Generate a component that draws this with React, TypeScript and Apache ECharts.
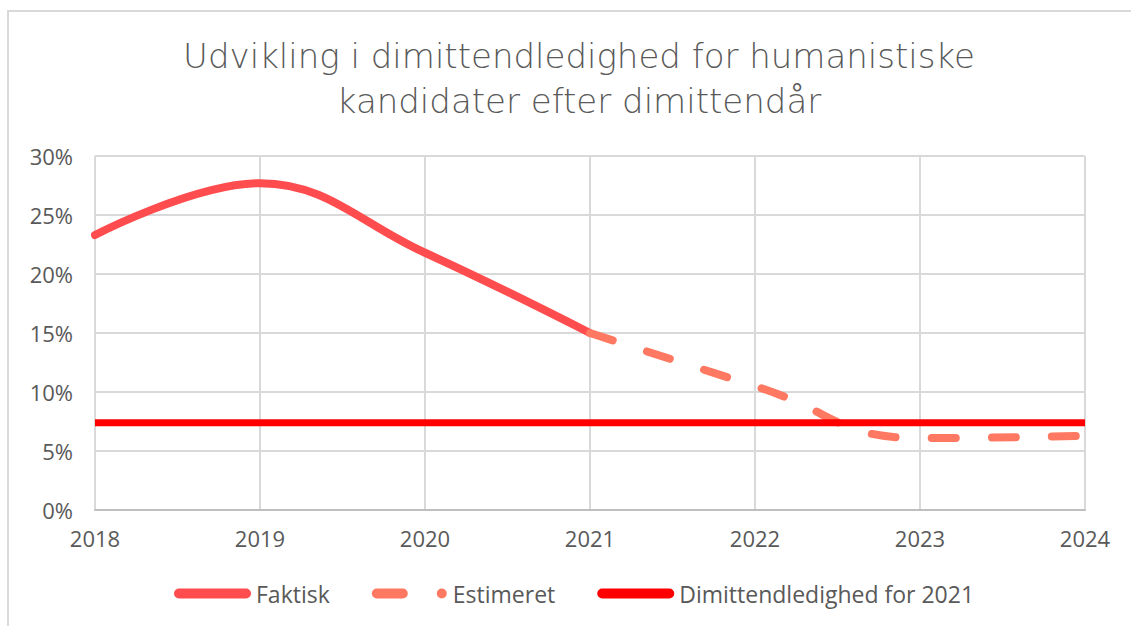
import React, { useEffect, useRef } from "react";
import * as echarts from "echarts";

const titleLines = ["Udvikling i dimittendledighed for humanistiske", "kandidater efter dimittendår"];
const seriesNames = ["Faktisk", "Estimeret", "Dimittendledighed for 2021"];
const faktiskYears = [2018, 2019, 2020, 2021];
const faktiskValues = [23.3, 27.7, 21.8, 15.0];
const estimeretYears = [2021, 2022, 2023, 2024];
const estimeretValues = [15.0, 10.5, 6.1, 6.3];
const refYears = [2018, 2024];
const refValues = [7.4, 7.4];

const FONT = "'Open Sans', Lato, sans-serif";
const TITLE_FONT = "'DejaVu Sans', 'Open Sans', sans-serif";
const TXT = "#595959";
const C1 = "#FF4D4F";
const C2 = "#FF7962";
const C3 = "#FF0000";

const pill = "path://M5,0 H72 A5,5 0 0 1 72,10 H5 A5,5 0 0 1 5,0 Z";
const dashPill =
  "path://M5,0 H31 A5,5 0 0 1 31,10 H5 A5,5 0 0 1 5,0 Z M70,0 A5,5 0 1 1 70,10 A5,5 0 1 1 70,0 Z";

export default function App() {
  const ref = useRef<HTMLDivElement>(null);
  useEffect(() => {
    if (!ref.current) return;
    const chart = echarts.init(ref.current, undefined, { renderer: "svg" });
    const zip = (xs: number[], ys: number[]) => xs.map((x, i) => [x, ys[i]]);
    const titleStyle = {
      fontFamily: TITLE_FONT,
      fontSize: 34,
      fontWeight: 200,
      color: TXT,
      lineHeight: 40,
    };
    chart.setOption({
      animation: false,
      backgroundColor: "#ffffff",
      textStyle: { fontFamily: FONT },
      graphic: [
        {
          type: "rect",
          shape: { x: 8, y: 11, width: 1200, height: 700 },
          style: { fill: "none", stroke: "#D9D9D9", lineWidth: 2 },
          silent: true,
        },
      ],
      title: [
        { text: titleLines[0], left: 574, textAlign: "center", top: 31, textStyle: titleStyle },
        { text: titleLines[1], left: 574, textAlign: "center", top: 76, textStyle: titleStyle },
      ],
      legend: {
        bottom: 16,
        left: 169,
        itemWidth: 77,
        itemHeight: 10,
        itemGap: 42,
        textStyle: { fontFamily: FONT, fontSize: 23, color: TXT },
        data: [
          { name: seriesNames[0], icon: pill, itemStyle: { color: C1 } },
          { name: seriesNames[1], icon: dashPill, itemStyle: { color: C2 } },
          { name: seriesNames[2], icon: pill, itemStyle: { color: C3 } },
        ],
      },
      grid: { left: 95, right: 46, top: 156, bottom: 116, containLabel: false },
      xAxis: {
        type: "value",
        min: 2018,
        max: 2024,
        interval: 1,
        axisLine: { show: true, lineStyle: { color: "#BFBFBF", width: 2 } },
        axisTick: { show: false },
        splitLine: { show: true, lineStyle: { color: "#D9D9D9", width: 2 } },
        axisLabel: {
          color: TXT,
          fontSize: 22,
          fontFamily: FONT,
          margin: 17,
          formatter: (v: number) => String(v),
        },
      },
      yAxis: {
        type: "value",
        min: 0,
        max: 30,
        interval: 5,
        axisLine: { show: false },
        axisTick: { show: false },
        splitLine: { show: true, lineStyle: { color: "#D9D9D9", width: 2 } },
        axisLabel: {
          color: TXT,
          fontSize: 22,
          fontFamily: FONT,
          margin: 22,
          formatter: (v: number) => v + "%",
        },
      },
      series: [
        {
          name: seriesNames[0],
          type: "line",
          smooth: 0.4,
          symbol: "none",
          data: zip(faktiskYears, faktiskValues),
          lineStyle: { color: C1, width: 8, cap: "round" },
          itemStyle: { color: C1 },
          z: 3,
        },
        {
          name: seriesNames[1],
          type: "line",
          smooth: 0.5,
          symbol: "none",
          data: zip(estimeretYears, estimeretValues),
          lineStyle: { color: C2, width: 8, type: [24, 36], cap: "round" },
          itemStyle: { color: C2 },
          z: 3,
        },
        {
          name: seriesNames[2],
          type: "line",
          symbol: "none",
          data: zip(refYears, refValues),
          lineStyle: { color: C3, width: 7 },
          itemStyle: { color: C3 },
          z: 4,
        },
      ],
    });
    return () => chart.dispose();
  }, []);
  return (
    <div
      ref={ref}
      style={{ position: "absolute", left: 0, top: 0, width: 1131, height: 626 }}
    />
  );
}
